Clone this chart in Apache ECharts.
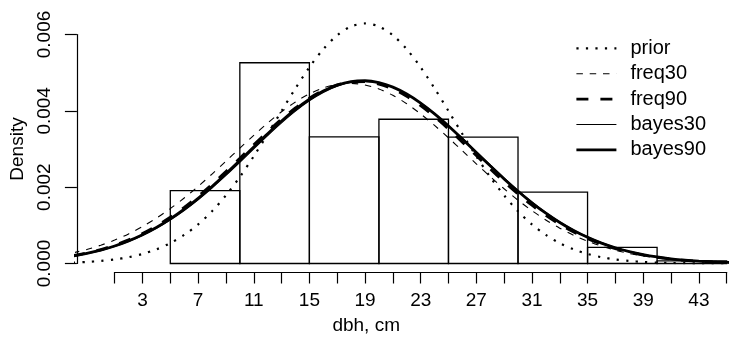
<!DOCTYPE html>
<html>
<head>
<meta charset="utf-8">
<script src="https://cdn.jsdelivr.net/npm/echarts@6/dist/echarts.min.js"></script>
<style>
  html, body { margin: 0; padding: 0; background: #fff; }
  #chart { width: 729px; height: 340px; }
</style>
</head>
<body>
<div id="chart"></div>
<script>
// dbh grid (cm) at which the density curves were read
const dbh = [-2, -1, 0, 1, 2, 3, 4, 5, 6, 7, 8, 9, 10, 11, 12, 13, 14, 15, 16, 17, 18, 19, 20,
  21, 22, 23, 24, 25, 26, 27, 28, 29, 30, 31, 32, 33, 34, 35, 36, 37, 38, 39, 40, 41, 42, 43, 44, 45, 46];

const prior = [0.000024, 0.000041, 0.000067, 0.000106, 0.000165, 0.00025, 0.00037, 0.000533, 0.000749,
  0.001025, 0.00137, 0.001786, 0.002268, 0.00281, 0.003393, 0.003997, 0.00459, 0.005142, 0.005616,
  0.005981, 0.006211, 0.00629, 0.006211, 0.005981, 0.005616, 0.005142, 0.00459, 0.003997, 0.003393,
  0.00281, 0.002268, 0.001786, 0.00137, 0.001025, 0.000749, 0.000533, 0.00037, 0.00025, 0.000165,
  0.000106, 0.000067, 0.000041, 0.000024, 0.000014, 0.000008, 0.000004, 0.000002, 0.000001, 0.000001];

const freq30 = [0.000279, 0.000368, 0.000479, 0.000614, 0.000776, 0.000967, 0.001188, 0.001438, 0.001717,
  0.00202, 0.002344, 0.00268, 0.003022, 0.003359, 0.003681, 0.003976, 0.004234, 0.004445, 0.0046,
  0.004693, 0.00472, 0.004679, 0.004574, 0.004407, 0.004186, 0.00392, 0.003618, 0.003293, 0.002954,
  0.002613, 0.002278, 0.001958, 0.001659, 0.001385, 0.001141, 0.000926, 0.000741, 0.000585, 0.000455,
  0.000348, 0.000263, 0.000196, 0.000144, 0.000104, 0.000075, 0.000052, 0.000036, 0.000025, 0.000017];

const freq90 = [0.000205, 0.000277, 0.000367, 0.00048, 0.000619, 0.000786, 0.000983, 0.001212, 0.001471,
  0.001761, 0.002075, 0.00241, 0.002758, 0.00311, 0.003455, 0.003783, 0.004079, 0.004335, 0.004539,
  0.004682, 0.004759, 0.004767, 0.004703, 0.004573, 0.00438, 0.004134, 0.003845, 0.003523, 0.00318,
  0.002829, 0.002479, 0.002141, 0.001822, 0.001527, 0.001261, 0.001027, 0.000823, 0.00065, 0.000506,
  0.000388, 0.000293, 0.000218, 0.00016, 0.000115, 0.000082, 0.000058, 0.00004, 0.000027, 0.000018];

const bayes30 = [0.000187, 0.000254, 0.000338, 0.000444, 0.000575, 0.000733, 0.00092, 0.00114, 0.00139,
  0.001671, 0.001979, 0.002309, 0.002653, 0.003005, 0.003354, 0.003687, 0.003994, 0.004263, 0.004483,
  0.004645, 0.004742, 0.004771, 0.004728, 0.004617, 0.004443, 0.004212, 0.003934, 0.003621, 0.003284,
  0.002934, 0.002584, 0.00224, 0.001915, 0.001613, 0.001339, 0.001095, 0.000881, 0.0007, 0.000547,
  0.000421, 0.00032, 0.000239, 0.000177, 0.000128, 0.000092, 0.000065, 0.000045, 0.000031, 0.000021];

const bayes90 = [0.000194, 0.000263, 0.000349, 0.000458, 0.000592, 0.000754, 0.000945, 0.001169, 0.001423,
  0.001708, 0.002019, 0.002352, 0.002699, 0.003052, 0.003401, 0.003734, 0.004038, 0.004304, 0.00452,
  0.004676, 0.004767, 0.004789, 0.004739, 0.004621, 0.00444, 0.004203, 0.00392, 0.003603, 0.003262,
  0.002911, 0.002559, 0.002216, 0.001892, 0.001591, 0.001318, 0.001076, 0.000865, 0.000686, 0.000535,
  0.000412, 0.000312, 0.000233, 0.000172, 0.000124, 0.000089, 0.000063, 0.000043, 0.00003, 0.00002];

// histogram bins
const binStart = [5, 10, 15, 20, 25, 30, 35, 40];
const binEnd = [10, 15, 20, 25, 30, 35, 40, 45];
const binDensity = [0.00191, 0.00526, 0.00332, 0.00378, 0.00331, 0.00187, 0.00042, 0.00007];

// axis ticks / labels
const xTickValues = [1, 3, 5, 7, 9, 11, 13, 15, 17, 19, 21, 23, 25, 27, 29, 31, 33, 35, 37, 39, 41, 43, 45];
const xLabelValues = [3, 7, 11, 15, 19, 23, 27, 31, 35, 39, 43];

const FONT = '"Liberation Sans", Arial, Helvetica, sans-serif';
const BLACK = '#000';

const chart = echarts.init(document.getElementById('chart'), null, { renderer: 'canvas' });

const pairs = vals => dbh.map((x, i) => [x, vals[i]]);

// une courbe de densité
const curve = (name, vals, width, dash) => ({
  name: name,
  type: 'line',
  xAxisIndex: 0,
  yAxisIndex: 0,
  data: pairs(vals),
  symbol: 'none',
  smooth: 0.3,
  silent: true,
  z: 3,
  color: BLACK,
  lineStyle: { color: BLACK, width: width, type: dash, cap: 'butt' }
});

const option = {
  animation: false,
  backgroundColor: '#fff',
  textStyle: { fontFamily: FONT },
  grid: [
    { left: 76, top: 4, width: 653, height: 259.5 },     // data area
    { left: 76, top: 34.5, width: 653, height: 229 },    // y axis (0 .. 0.006)
    { left: 114.7, top: 34.5, width: 612, height: 240.2 } // x axis (1 .. 45)
  ],
  xAxis: [
    { gridIndex: 0, type: 'value', min: -1.78, max: 45.17, show: false },
    { gridIndex: 1, type: 'value', show: false },
    {
      gridIndex: 2, type: 'value', min: 1, max: 45,
      axisLine: { show: true, lineStyle: { color: BLACK, width: 1.2 } },
      axisTick: { show: true, customValues: xTickValues, length: 11.5, lineStyle: { color: BLACK, width: 1.2 } },
      axisLabel: { customValues: xLabelValues, margin: 19.5, fontSize: 19, color: BLACK, fontFamily: FONT },
      splitLine: { show: false },
      name: 'dbh, cm',
      nameLocation: 'middle',
      nameGap: 44,
      nameTextStyle: { fontSize: 19, color: BLACK, fontFamily: FONT, padding: [0, 109, 0, 0] }
    }
  ],
  yAxis: [
    { gridIndex: 0, type: 'value', min: 0, max: 0.0068, show: false },
    {
      gridIndex: 1, type: 'value', min: 0, max: 0.006, interval: 0.002,
      axisLine: { show: true, lineStyle: { color: BLACK, width: 1.2 } },
      axisTick: { show: true, length: 12, lineStyle: { color: BLACK, width: 1.2 } },
      axisLabel: { rotate: 90, margin: 23, fontSize: 19, color: BLACK, fontFamily: FONT,
        formatter: v => v.toFixed(3) },
      splitLine: { show: false },
      name: 'Density',
      nameLocation: 'middle',
      nameRotate: 90,
      nameGap: 47,
      nameTextStyle: { fontSize: 19, color: BLACK, fontFamily: FONT }
    },
    { gridIndex: 2, type: 'value', show: false }
  ],
  legend: {
    orient: 'vertical',
    left: 570,
    top: 33.3,
    itemWidth: 40,
    itemHeight: 20,
    itemGap: 5.4,
    selectedMode: false,
    itemStyle: { color: 'rgba(0,0,0,0)', borderWidth: 0, opacity: 0 },
    lineStyle: { width: 'inherit', color: BLACK },
    textStyle: { fontSize: 20, color: BLACK, fontFamily: FONT, padding: [0, 0, 0, 9] },
    data: ['prior', 'freq30', 'freq90', 'bayes30', 'bayes90']
  },
  series: [
    {
      type: 'custom',
      xAxisIndex: 0,
      yAxisIndex: 0,
      silent: true,
      z: 2,
      data: binStart.map((s, i) => [s, binEnd[i], binDensity[i]]),
      encode: { x: [0, 1], y: 2 },
      renderItem: (params, api) => {
        const tl = api.coord([api.value(0), api.value(2)]);
        const br = api.coord([api.value(1), 0]);
        return {
          type: 'rect',
          shape: { x: tl[0], y: tl[1], width: br[0] - tl[0], height: br[1] - tl[1] },
          style: { fill: 'none', stroke: BLACK, lineWidth: 1.3 }
        };
      }
    },
    curve('prior', prior, 2.2, [2.2, 7.3]),
    curve('freq30', freq30, 1.1, [6.5, 6.8]),
    curve('freq90', freq90, 2.8, [12, 12]),
    curve('bayes30', bayes30, 1.1, 'solid'),
    curve('bayes90', bayes90, 2.8, 'solid')
  ]
};

chart.setOption(option);
</script>
</body>
</html>
